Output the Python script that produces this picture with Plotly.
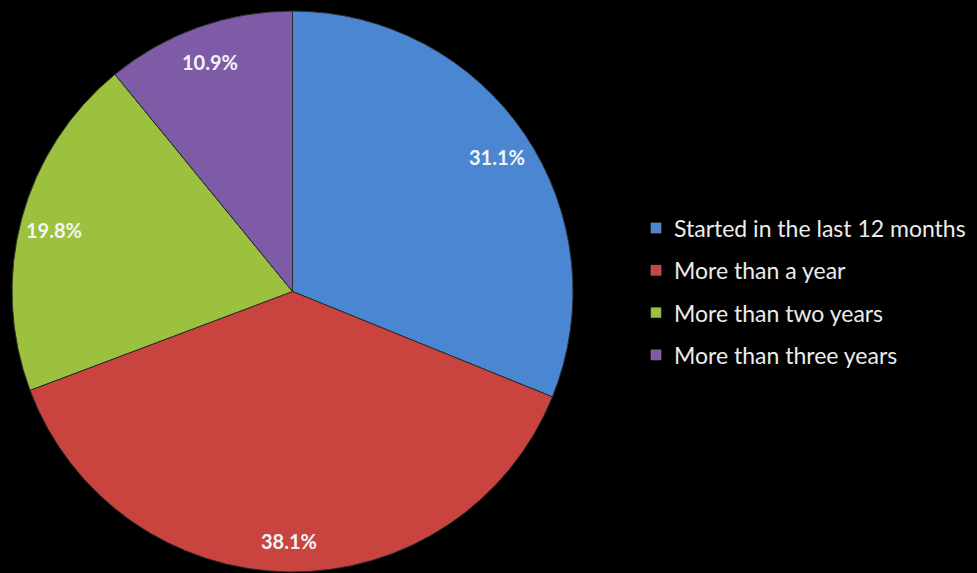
import math
import plotly.graph_objects as go

# Survey: how long ago the respondent started
categories = [
    "Started in the last 12 months",
    "More than a year",
    "More than two years",
    "More than three years",
]
shares = [31.1, 38.1, 19.8, 10.9]
colors = ["#4a86d2", "#c9443f", "#9bc13f", "#7e5ba7"]

W, H = 977, 573
pie_left, pie_right, pie_top = 12, 573, 10

fig = go.Figure()

fig.add_trace(go.Pie(
    labels=categories,
    values=shares,
    sort=False,
    direction="clockwise",
    rotation=0,
    marker=dict(colors=colors, line=dict(color="#2b2b2b", width=1)),
    textinfo="none",
    hoverinfo="label+value",
    showlegend=False,
    domain=dict(x=[pie_left / W, pie_right / W], y=[0, 1 - pie_top / H]),
))

# Pie geometry in pixels, used to place the value labels near the rim
radius = min(pie_right - pie_left, H - pie_top) / 2
cx = (pie_left + pie_right) / 2
cy = pie_top + radius
total = sum(shares)
cum = 0.0
annotations = []
for val in shares:
    mid = (cum + val / 2) / total * 2 * math.pi
    cum += val
    rr = 0.88 * radius
    px = cx + rr * math.sin(mid)
    py = cy - rr * math.cos(mid) + 4
    annotations.append(dict(
        x=px / W, y=1 - py / H, xref="paper", yref="paper",
        text=f"{val:.1f}%", showarrow=False,
        font=dict(family="Lato", size=20, color="#f4f4f4", weight="bold"),
        xanchor="center", yanchor="middle",
    ))

# Legend drawn as swatches and labels
leg_x_sw, leg_x_txt = 651, 672
leg_y0, leg_dy = 228, 42.3
shapes = []
for i, (name, col) in enumerate(zip(categories, colors)):
    y = leg_y0 + i * leg_dy
    shapes.append(dict(
        type="rect", xref="paper", yref="paper",
        x0=leg_x_sw / W, x1=(leg_x_sw + 10) / W,
        y0=1 - (y + 5) / H, y1=1 - (y - 5) / H,
        fillcolor=col, line=dict(color="#8a8a8a", width=0.6),
    ))
    annotations.append(dict(
        x=leg_x_txt / W, y=1 - y / H, xref="paper", yref="paper",
        text=name, showarrow=False, xanchor="left", yanchor="middle",
        font=dict(family="Lato", size=23, color="#ececec"),
    ))

fig.update_layout(
    width=W, height=H,
    margin=dict(l=0, r=0, t=0, b=0),
    paper_bgcolor="#000000",
    plot_bgcolor="#000000",
    annotations=annotations,
    shapes=shapes,
)

fig.write_html("out.html")
